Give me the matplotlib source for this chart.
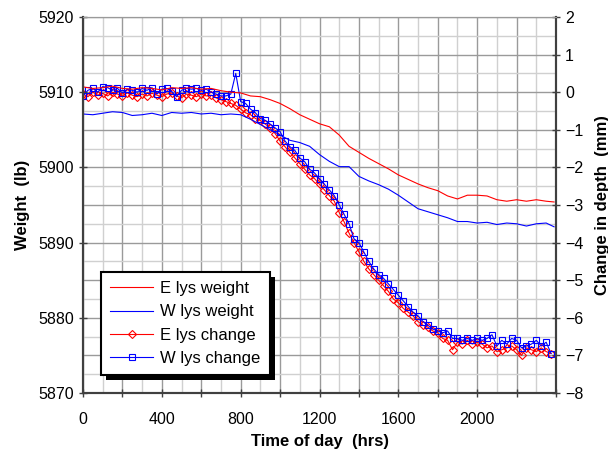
import matplotlib
matplotlib.use("Agg")
import matplotlib.pyplot as plt
from matplotlib.patches import Rectangle
from matplotlib.ticker import MultipleLocator, FuncFormatter

plt.rcParams["font.family"] = ["Liberation Sans", "DejaVu Sans"]

# time of day (hrs) for the depth-change series
change_time = [
    0, 25, 50, 75, 100, 125, 150, 175, 200, 225, 250, 275, 300, 325, 350, 375,
    400, 425, 450, 475, 500, 525, 550, 575, 600, 625, 650, 675, 700, 725, 750, 775,
    800, 825, 850, 875, 900, 925, 950, 975, 1000, 1025, 1050, 1075, 1100, 1125, 1150, 1175,
    1200, 1225, 1250, 1275, 1300, 1325, 1350, 1375, 1400, 1425, 1450, 1475, 1500, 1525, 1550, 1575,
    1600, 1625, 1650, 1675, 1700, 1725, 1750, 1775, 1800, 1825, 1850, 1875, 1900, 1925, 1950, 1975,
    2000, 2025, 2050, 2075, 2100, 2125, 2150, 2175, 2200, 2225, 2250, 2275, 2300, 2325, 2350, 2375,
]
e_change = [
    -0.05, -0.12, 0.0, -0.08, -0.03, -0.10, 0.0, -0.05, -0.10, -0.02, -0.08, -0.12, -0.05, -0.10, -0.03, -0.08,
    -0.12, -0.05, -0.02, -0.10, -0.15, -0.05, -0.08, -0.12, -0.05, -0.10, -0.08, -0.15, -0.20, -0.25, -0.30, -0.35,
    -0.45, -0.55, -0.60, -0.70, -0.75, -0.85, -0.95, -1.10, -1.30, -1.45, -1.60, -1.75, -1.90, -2.05, -2.20, -2.30,
    -2.45, -2.60, -2.75, -2.90, -3.20, -3.45, -3.75, -4.00, -4.25, -4.50, -4.70, -4.85, -5.00, -5.15, -5.30, -5.50,
    -5.60, -5.75, -5.85, -5.95, -6.10, -6.20, -6.25, -6.35, -6.40, -6.55, -6.60, -6.85, -6.65, -6.70, -6.60, -6.70,
    -6.65, -6.70, -6.80, -6.75, -6.90, -6.85, -6.80, -6.75, -6.85, -7.00, -6.80, -6.85, -6.90, -6.80, -6.90, -6.95,
]
w_change = [
    -0.10, 0.05, 0.10, 0.0, 0.15, 0.12, 0.05, 0.10, -0.02, 0.08, 0.05, 0.0, 0.10, 0.05, 0.12, -0.05,
    0.08, 0.10, 0.02, -0.12, 0.05, 0.10, 0.08, 0.10, 0.05, 0.08, 0.0, -0.05, -0.10, -0.10, -0.05, 0.50,
    -0.25, -0.30, -0.45, -0.55, -0.70, -0.75, -0.85, -0.95, -1.05, -1.30, -1.45, -1.55, -1.75, -1.85, -2.05, -2.15,
    -2.30, -2.45, -2.60, -2.75, -3.00, -3.25, -3.50, -3.90, -4.00, -4.25, -4.50, -4.70, -4.85, -4.95, -5.10, -5.25,
    -5.40, -5.55, -5.70, -5.85, -5.95, -6.10, -6.20, -6.30, -6.35, -6.40, -6.35, -6.55, -6.55, -6.60, -6.55, -6.60,
    -6.55, -6.60, -6.55, -6.45, -6.75, -6.60, -6.70, -6.55, -6.60, -6.80, -6.75, -6.70, -6.60, -6.75, -6.65, -6.95,
]

# time of day (hrs) for the weight series
weight_time = [
    0, 50, 100, 150, 200, 250, 300, 350, 400, 450, 500, 550, 600, 650, 700, 750,
    800, 850, 900, 950, 1000, 1050, 1100, 1150, 1200, 1250, 1300, 1350, 1400, 1450, 1500, 1550,
    1600, 1650, 1700, 1750, 1800, 1850, 1900, 1950, 2000, 2050, 2100, 2150, 2200, 2250, 2300, 2350, 2390,
]
e_weight = [
    5910.7, 5910.5, 5910.6, 5910.8, 5910.5, 5910.4, 5910.6, 5910.5, 5910.3, 5910.6, 5910.5, 5910.6, 5910.4, 5910.5, 5910.2, 5910.0,
    5909.9, 5909.5, 5909.4, 5909.0, 5908.5, 5907.8, 5907.0, 5906.4, 5905.8, 5905.4, 5904.3, 5902.8, 5902.0, 5901.2, 5900.5, 5899.8,
    5899.0, 5898.4, 5897.8, 5897.3, 5896.9, 5896.2, 5895.8, 5896.3, 5896.3, 5896.2, 5895.7, 5895.5, 5895.7, 5895.5, 5895.7, 5895.5, 5895.4,
]
w_weight = [
    5907.1, 5907.0, 5907.2, 5907.4, 5907.3, 5906.9, 5907.0, 5907.2, 5906.9, 5907.3, 5907.2, 5907.3, 5907.1, 5907.2, 5907.0, 5907.1,
    5907.0, 5906.4, 5905.7, 5905.0, 5904.3, 5903.6, 5903.3, 5902.8, 5901.7, 5900.8, 5900.1, 5900.1, 5898.8, 5898.2, 5897.7, 5897.1,
    5896.3, 5895.4, 5894.5, 5894.1, 5893.7, 5893.3, 5892.8, 5892.8, 5892.6, 5892.7, 5892.4, 5892.6, 5892.5, 5892.2, 5892.5, 5892.6, 5892.1,
]

RED = "#ff0000"
BLUE = "#0000ff"
SPINE = "#404040"

fig = plt.figure(figsize=(6.08, 4.54), dpi=100)
# base axes holds the depth change (right-hand scale) and the grid
ax = fig.add_axes([0.1365, 0.1344, 0.778, 0.8282])
# twin holds the weights (left-hand scale)
axw = ax.twinx()
ax.yaxis.tick_right()
ax.yaxis.set_label_position("right")
axw.yaxis.tick_left()
axw.yaxis.set_label_position("left")

ax.set_xlim(0, 2400)
ax.set_ylim(-8, 2)
axw.set_ylim(5870, 5920)

ax.xaxis.set_major_locator(MultipleLocator(200))
ax.xaxis.set_minor_locator(MultipleLocator(100))
ax.xaxis.set_major_formatter(
    FuncFormatter(lambda v, p: f"{v:.0f}" if v % 400 == 0 and v < 2400 else ""))
ax.yaxis.set_major_locator(MultipleLocator(1))
ax.yaxis.set_minor_locator(MultipleLocator(0.5))
axw.yaxis.set_major_locator(MultipleLocator(10))

ax.grid(which="major", color="#9a9a9a", linewidth=1.0)
ax.grid(which="minor", color="#d0d0d0", linewidth=1.0)
ax.set_axisbelow(True)

ax.tick_params(which="major", direction="inout", length=6, width=1, color=SPINE, labelsize=11.5)
ax.tick_params(which="minor", length=0)
ax.tick_params(axis="x", pad=11)
axw.tick_params(which="major", direction="inout", length=6, width=1, color=SPINE, labelsize=11.5)

for a in (ax, axw):
    for side in ("left", "right", "bottom"):
        a.spines[side].set_color(SPINE)
        a.spines[side].set_linewidth(1.5)
    a.spines["top"].set_color("#9a9a9a")

lw1, = axw.plot(weight_time, e_weight, color=RED, linewidth=0.8, label="E lys weight")
lw2, = axw.plot(weight_time, w_weight, color=BLUE, linewidth=0.8, label="W lys weight")
lc1, = ax.plot(change_time, e_change, color=RED, linewidth=0.8, marker="D", markersize=4,
               markerfacecolor="none", markeredgecolor=RED, markeredgewidth=0.8, label="E lys change")
lc2, = ax.plot(change_time, w_change, color=BLUE, linewidth=0.8, marker="s", markersize=5,
               markerfacecolor="none", markeredgecolor=BLUE, markeredgewidth=0.8, label="W lys change")

ax.set_xlabel("Time of day  (hrs)", fontsize=12, fontweight="bold", labelpad=5)
ax.set_ylabel("Change in depth  (mm)", fontsize=12, fontweight="bold", labelpad=8)
axw.set_ylabel("Weight  (lb)", fontsize=12, fontweight="bold", labelpad=6)

leg = axw.legend(handles=[lw1, lw2, lc1, lc2], loc="upper left", bbox_to_anchor=(0.038, 0.322),
                 borderaxespad=0, fancybox=False, framealpha=1, edgecolor="black",
                 fontsize=12, handlelength=2.6, handletextpad=0.4, labelspacing=0.5,
                 borderpad=0.55)
leg.get_frame().set_linewidth(1.5)
leg.set_zorder(10)

# solid black drop shadow offset down-right, as in the original
fig.canvas.draw()
bb = leg.get_window_extent()
shadow = Rectangle((bb.x0 + 5, bb.y0 - 5), bb.width, bb.height, transform=None,
                   facecolor="black", edgecolor="none", zorder=9, clip_on=False)
axw.add_artist(shadow)

fig.savefig("out.png", dpi=100)
